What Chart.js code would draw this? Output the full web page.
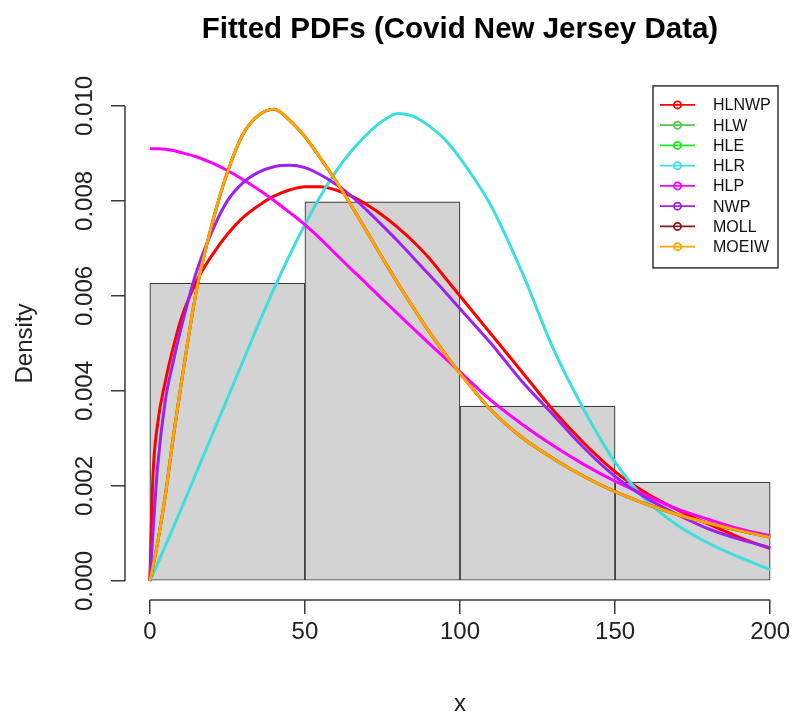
<!DOCTYPE html>
<html>
<head>
<meta charset="utf-8">
<title>Fitted PDFs (Covid New Jersey Data)</title>
<script src="https://cdn.jsdelivr.net/npm/chart.js@4.4.1/dist/chart.umd.min.js"></script>
<style>
  html, body { margin: 0; padding: 0; background: #fff; }
  #wrap { width: 795px; height: 720px; }
</style>
</head>
<body>
<div id="wrap"><canvas id="pdfChart"></canvas></div>
<script>
// Histogram of the observations (bin width 50, density scale)
const binCenters = [25, 75, 125, 175];
const binDensity = [0.00627, 0.00798, 0.00368, 0.00208];

// Axis ticks
const xTicks = [0, 50, 100, 150, 200];
const yTicks = [0, 0.002, 0.004, 0.006, 0.008, 0.010];

// x values where the fitted densities are evaluated
const xGrid = [0, 1, 2.5, 5, 7.5, 10, 15, 20, 25, 30, 35, 40, 45, 50, 55, 60,
  65, 70, 75, 80, 85, 90, 95, 100, 110, 120, 130, 140, 150, 160, 170, 180, 190, 200];

const hlnwpPdf = [0, 0.0022, 0.0033, 0.0042, 0.0049, 0.0055, 0.0063, 0.00685, 0.0073, 0.00765, 0.0079, 0.0081, 0.00823, 0.0083, 0.0083, 0.00823,
  0.0081, 0.00792, 0.0077, 0.00744, 0.00714, 0.0068, 0.0064, 0.0060, 0.0052, 0.0044, 0.0036, 0.0029, 0.0023, 0.00185, 0.0015, 0.0012, 0.00092, 0.00068];
// HLW and HLE lie under the MOLL / MOEIW curves
const hlwPdf = [0, 0.0003, 0.0008, 0.0018, 0.0030, 0.0041, 0.0061, 0.0075, 0.0086, 0.0094, 0.0098, 0.00993, 0.0097, 0.00935, 0.0089, 0.00842,
  0.0079, 0.00735, 0.0068, 0.00626, 0.00575, 0.00525, 0.0048, 0.00437, 0.0036, 0.00302, 0.00258, 0.0022, 0.00188, 0.00162, 0.0014, 0.00122, 0.00106, 0.00092];
const hlePdf = [0, 0.0003, 0.0008, 0.0018, 0.0030, 0.0041, 0.0061, 0.0075, 0.0086, 0.0094, 0.0098, 0.00993, 0.0097, 0.00935, 0.0089, 0.00842,
  0.0079, 0.00735, 0.0068, 0.00626, 0.00575, 0.00525, 0.0048, 0.00437, 0.0036, 0.00302, 0.00258, 0.0022, 0.00188, 0.00162, 0.0014, 0.00122, 0.00106, 0.00092];
const hlrPdf = [0, 0.00014, 0.00036, 0.00074, 0.00112, 0.0015, 0.00228, 0.00306, 0.00384, 0.00462, 0.0054, 0.00615, 0.00685, 0.0075, 0.0081, 0.00862,
  0.00905, 0.0094, 0.00968, 0.00984, 0.00978, 0.00958, 0.0093, 0.0089, 0.0079, 0.0065, 0.0049, 0.0036, 0.0025, 0.0017, 0.00118, 0.0008, 0.0005, 0.00024];
const hlpPdf = [0.0091, 0.0091, 0.0091, 0.00909, 0.00906, 0.00902, 0.00893, 0.0088, 0.00864, 0.00845, 0.00824, 0.00801, 0.00776, 0.0075, 0.0072, 0.00688,
  0.00656, 0.00625, 0.00593, 0.00562, 0.00531, 0.0050, 0.0047, 0.0044, 0.0038, 0.0033, 0.00285, 0.00245, 0.0021, 0.0018, 0.00152, 0.0013, 0.0011, 0.00095];
const nwpPdf = [0, 0.0010, 0.0024, 0.0038, 0.0046, 0.0053, 0.0065, 0.00735, 0.0080, 0.00838, 0.0086, 0.00872, 0.00875, 0.0087, 0.00855, 0.00835,
  0.0081, 0.0078, 0.00748, 0.00715, 0.0068, 0.00645, 0.0061, 0.00573, 0.0050, 0.0042, 0.0035, 0.0028, 0.0022, 0.00175, 0.0014, 0.0011, 0.00088, 0.0007];
const mollPdf = [0, 0.0003, 0.0008, 0.0018, 0.0030, 0.0041, 0.0061, 0.0075, 0.0086, 0.0094, 0.0098, 0.00993, 0.0097, 0.00935, 0.0089, 0.00842,
  0.0079, 0.00735, 0.0068, 0.00626, 0.00575, 0.00525, 0.0048, 0.00437, 0.0036, 0.00302, 0.00258, 0.0022, 0.00188, 0.00162, 0.0014, 0.00122, 0.00106, 0.00092];
const moeiwPdf = [0, 0.0003, 0.0008, 0.0018, 0.0030, 0.0041, 0.0061, 0.0075, 0.0086, 0.0094, 0.0098, 0.00993, 0.0097, 0.00935, 0.0089, 0.00842,
  0.0079, 0.00735, 0.0068, 0.00626, 0.00575, 0.00525, 0.0048, 0.00437, 0.0036, 0.00302, 0.00258, 0.0022, 0.00188, 0.00162, 0.0014, 0.00122, 0.00106, 0.00092];

const curveNames = ['HLNWP', 'HLW', 'HLE', 'HLR', 'HLP', 'NWP', 'MOLL', 'MOEIW'];
const curveColors = ['#ff0000', '#4cc94c', '#1ee61e', '#3fdede', '#ff00ff', '#a020f0', '#8b1a1a', '#ffa500'];
const curveValues = [hlnwpPdf, hlwPdf, hlePdf, hlrPdf, hlpPdf, nwpPdf, mollPdf, moeiwPdf];

const FONT = "'Liberation Sans', Arial, Helvetica, sans-serif";
const AXIS_COLOR = '#3a3a3a';

// axis lines only span the first to last tick
const axisLines = {
  id: 'axisLines',
  afterDraw(chart) {
    const { ctx, chartArea, scales: { x, y } } = chart;
    ctx.save();
    ctx.strokeStyle = AXIS_COLOR;
    ctx.lineWidth = 1.5;
    ctx.beginPath();
    ctx.moveTo(x.getPixelForValue(xTicks[0]), chartArea.bottom);
    ctx.lineTo(x.getPixelForValue(xTicks[xTicks.length - 1]), chartArea.bottom);
    ctx.moveTo(chartArea.left, y.getPixelForValue(yTicks[0]));
    ctx.lineTo(chartArea.left, y.getPixelForValue(yTicks[yTicks.length - 1]));
    ctx.stroke();
    ctx.restore();
  }
};

// boxed legend in the top right corner, line + open circle per fit
const boxLegend = {
  id: 'boxLegend',
  afterDraw(chart) {
    const { ctx, chartArea } = chart;
    const boxW = 125, boxH = 182, rowH = 20.25;
    const right = chartArea.right - 17;
    const top = chartArea.top - 1;
    const left = right - boxW;
    ctx.save();
    ctx.fillStyle = '#fff';
    ctx.fillRect(left, top, boxW, boxH);
    ctx.strokeStyle = '#333';
    ctx.lineWidth = 1.5;
    ctx.strokeRect(left, top, boxW, boxH);
    ctx.font = `16px ${FONT}`;
    ctx.textAlign = 'left';
    ctx.textBaseline = 'middle';
    curveNames.forEach((name, i) => {
      const yy = top + 19 + i * rowH;
      ctx.strokeStyle = curveColors[i];
      ctx.lineWidth = 1.8;
      ctx.beginPath();
      ctx.moveTo(left + 7, yy);
      ctx.lineTo(left + 42, yy);
      ctx.stroke();
      ctx.beginPath();
      ctx.arc(left + 24.5, yy, 3.6, 0, Math.PI * 2);
      ctx.stroke();
      ctx.fillStyle = '#111';
      ctx.fillText(name, left + 60, yy + 1);
    });
    ctx.restore();
  }
};

const histSet = {
  type: 'bar',
  label: 'histogram',
  data: binCenters.map((x, i) => ({ x, y: binDensity[i] })),
  backgroundColor: '#d3d3d3',
  borderColor: '#3c3c3c',
  borderWidth: 1.2,
  borderSkipped: false,
  barPercentage: 1,
  categoryPercentage: 1,
  order: 20
};

const lineSets = curveNames.map((name, i) => ({
  type: 'line',
  label: name,
  data: xGrid.map((x, j) => ({ x, y: curveValues[i][j] })),
  borderColor: curveColors[i],
  borderWidth: (name === 'HLW' || name === 'HLE') ? 2 : 3,
  pointRadius: 0,
  fill: false,
  cubicInterpolationMode: 'monotone',
  order: curveNames.length - i // later fits drawn on top
}));

new Chart(document.getElementById('pdfChart'), {
  type: 'bar',
  data: { datasets: [histSet, ...lineSets] },
  options: {
    responsive: true,
    maintainAspectRatio: false,
    animation: false,
    events: [],
    layout: { padding: 0 },
    plugins: {
      legend: { display: false },
      tooltip: { enabled: false },
      title: {
        display: true,
        fullSize: false,
        text: 'Fitted PDFs (Covid New Jersey Data)',
        color: '#000',
        font: { family: FONT, size: 29.5, weight: 'bold' },
        padding: { top: 12, bottom: 39.5 }
      }
    },
    scales: {
      x: {
        type: 'linear',
        min: -8,
        max: 208,
        offset: false,
        afterBuildTicks: axis => { axis.ticks = xTicks.map(value => ({ value })); },
        afterFit: axis => { axis.height = 120; },
        grid: { offset: false, drawOnChartArea: false, drawTicks: true, tickLength: 14, color: AXIS_COLOR, lineWidth: 1.5 },
        border: { display: false },
        ticks: {
          autoSkip: false,
          maxRotation: 0,
          padding: 4,
          color: '#222',
          font: { family: FONT, size: 24 },
          callback: v => String(v)
        },
        title: {
          display: true,
          text: 'x',
          color: '#222',
          font: { family: FONT, size: 24 },
          padding: { top: 0, bottom: 1 }
        }
      },
      y: {
        type: 'linear',
        min: -0.0004,
        max: 0.0104,
        afterBuildTicks: axis => { axis.ticks = yTicks.map(value => ({ value })); },
        afterFit: axis => { axis.width = 125; },
        grid: { drawOnChartArea: false, drawTicks: true, tickLength: 14, color: AXIS_COLOR, lineWidth: 1.5 },
        border: { display: false },
        ticks: {
          autoSkip: false,
          minRotation: 90,
          maxRotation: 90,
          crossAlign: 'center',
          padding: -4,
          color: '#222',
          font: { family: FONT, size: 24 },
          callback: v => v.toFixed(3)
        },
        title: {
          display: true,
          text: 'Density',
          color: '#222',
          font: { family: FONT, size: 24 },
          padding: { top: 11, bottom: 0 }
        }
      }
    }
  },
  plugins: [axisLines, boxLegend]
});
</script>
</body>
</html>
